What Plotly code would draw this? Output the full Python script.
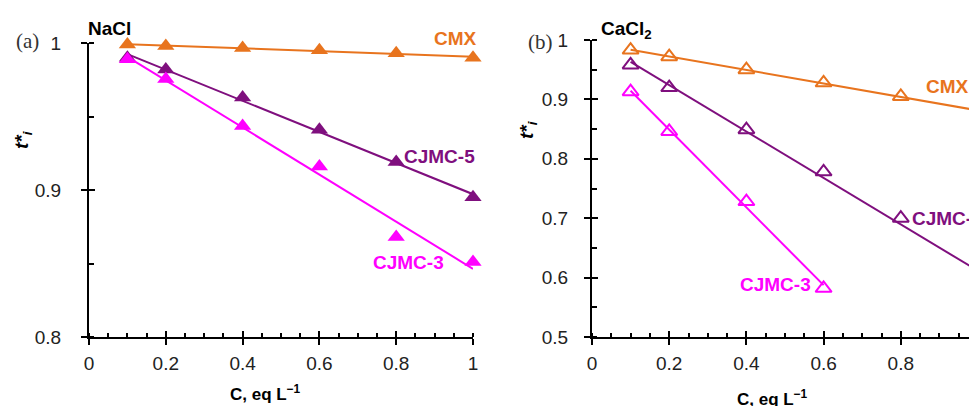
import numpy as np
import plotly.graph_objects as go

# ---------------- data ----------------
conc_a = [0.1, 0.2, 0.4, 0.6, 0.8, 1.0]
nacl_cmx = [0.999, 0.998, 0.9966, 0.995, 0.993, 0.990]
nacl_cjmc5 = [0.990, 0.982, 0.963, 0.941, 0.919, 0.895]
nacl_cjmc3 = [0.989, 0.9755, 0.9435, 0.916, 0.868, 0.851]

conc_b = [0.1, 0.2, 0.4, 0.6, 0.8, 1.0]
conc_b3 = [0.1, 0.2, 0.4, 0.6]
cacl_cmx = [0.983, 0.972, 0.950, 0.928, 0.905, 0.880]
cacl_cjmc5 = [0.958, 0.920, 0.849, 0.778, 0.700, 0.597]
cacl_cjmc3 = [0.913, 0.846, 0.728, 0.582]

x_ticks = [0, 0.2, 0.4, 0.6, 0.8, 1]
x_tick_text = ["0", "0.2", "0.4", "0.6", "0.8", "1"]
ya_ticks = [0.8, 0.9, 1.0]
ya_tick_text = ["0.8", "0.9", "1"]
yb_ticks = [0.5, 0.6, 0.7, 0.8, 0.9, 1.0]
yb_tick_text = ["0.5", "0.6", "0.7", "0.8", "0.9", "1"]

ORANGE = "#E8741E"
PURPLE = "#7F0F7E"
MAGENTA = "#FF00FF"

W, H = 977, 406
OFF = 8  # page body margin offset


def px(x):
    return (x - OFF) / W


def py(y):
    return 1 - (y - OFF) / H


fig = go.Figure()


def add_series(xs, ys, color, xa, ya, filled):
    xs = np.array(xs)
    ys = np.array(ys)
    k, b = np.polyfit(xs, ys, 1)
    xl = np.array([xs.min(), xs.max()])
    fig.add_trace(go.Scatter(x=xl, y=k * xl + b, mode="lines",
                             line=dict(color=color, width=2),
                             xaxis=xa, yaxis=ya, showlegend=False,
                             cliponaxis=False, hoverinfo="skip"))
    if filled:
        marker = dict(symbol="triangle-up", size=15, color=color,
                      line=dict(width=0))
    else:
        marker = dict(symbol="triangle-up-open", size=14, color=color,
                      line=dict(width=2, color=color))
    fig.add_trace(go.Scatter(x=xs, y=ys, mode="markers", marker=marker,
                             xaxis=xa, yaxis=ya, showlegend=False,
                             cliponaxis=False))


add_series(conc_a, nacl_cmx, ORANGE, "x", "y", True)
add_series(conc_a, nacl_cjmc5, PURPLE, "x", "y", True)
add_series(conc_a, nacl_cjmc3, MAGENTA, "x", "y", True)
add_series(conc_b, cacl_cmx, ORANGE, "x2", "y2", False)
add_series(conc_b, cacl_cjmc5, PURPLE, "x2", "y2", False)
add_series(conc_b3, cacl_cjmc3, MAGENTA, "x2", "y2", False)

# empty traces to activate overlay axes
fig.add_trace(go.Scatter(x=[], y=[], xaxis="x3", yaxis="y3", showlegend=False))
fig.add_trace(go.Scatter(x=[], y=[], xaxis="x4", yaxis="y4", showlegend=False))

tickfont = dict(family="Liberation Sans, Arial", size=19, color="#222")

dom_ax = [px(89), px(473)]
dom_ay = [py(337), py(43)]
dom_bx = [px(592), px(978)]
dom_by = [py(337), py(40)]

common_x = dict(range=[0, 1], showline=True, linecolor="black", linewidth=2,
                ticks="outside", ticklen=6, tickwidth=1.5, tickcolor="black",
                tickvals=x_ticks, ticktext=x_tick_text, tickfont=tickfont,
                showgrid=False, zeroline=False, automargin=False,
                ticklabelstandoff=2,
                minor=dict(dtick=0.05, tick0=0, ticks="inside", ticklen=4,
                           tickwidth=1.5, tickcolor="black", showgrid=False))
over_x = dict(range=[0, 1], showline=False, ticks="inside", ticklen=6,
              tickwidth=1.5, tickcolor="black", tickvals=x_ticks,
              showticklabels=False, showgrid=False, zeroline=False,
              automargin=False)

fig.update_layout(
    width=W, height=H, autosize=False,
    margin=dict(l=0, r=0, t=0, b=0, pad=0),
    paper_bgcolor="white", plot_bgcolor="white",
    font=dict(family="Liberation Sans, Arial", color="black"),
    xaxis=dict(domain=dom_ax, anchor="y", **common_x),
    yaxis=dict(domain=dom_ay, anchor="x", range=[0.8, 1.0], showline=True,
               linecolor="black", linewidth=2, ticks="outside", ticklen=6,
               tickwidth=1.5, tickcolor="black", tickvals=ya_ticks,
               ticktext=ya_tick_text, tickfont=tickfont, showgrid=False,
               zeroline=False, automargin=False, ticklabelstandoff=16,
               minor=dict(dtick=0.05, tick0=0.8, ticks="inside", ticklen=5,
                          tickwidth=1.5, tickcolor="black", showgrid=False)),
    xaxis2=dict(domain=dom_bx, anchor="y2", **common_x),
    yaxis2=dict(domain=dom_by, anchor="x2", range=[0.5, 1.0], showline=True,
                linecolor="black", linewidth=2, ticks="outside", ticklen=6,
                tickwidth=1.5, tickcolor="black", tickvals=yb_ticks,
                ticktext=yb_tick_text, tickfont=tickfont, showgrid=False,
                zeroline=False, automargin=False, ticklabelstandoff=12,
                minor=dict(dtick=0.05, tick0=0.5, ticks="inside", ticklen=5,
                           tickwidth=1.5, tickcolor="black", showgrid=False)),
    xaxis3=dict(overlaying="x", anchor="y", **over_x),
    yaxis3=dict(overlaying="y", anchor="x", range=[0.8, 1.0], showline=False,
                ticks="inside", ticklen=6, tickwidth=1.5, tickcolor="black",
                tickvals=ya_ticks, showticklabels=False, showgrid=False,
                zeroline=False, automargin=False),
    xaxis4=dict(overlaying="x2", anchor="y2", **over_x),
    yaxis4=dict(overlaying="y2", anchor="x2", range=[0.5, 1.0], showline=False,
                ticks="inside", ticklen=6, tickwidth=1.5, tickcolor="black",
                tickvals=yb_ticks, showticklabels=False, showgrid=False,
                zeroline=False, automargin=False),
)

ann = []


def add_text(text, x, y, size=16, color="black", bold=True, family="Liberation Sans, Arial",
             xanchor="center", angle=0):
    t = f"<b>{text}</b>" if bold else text
    ann.append(dict(text=t, x=px(x), y=py(y), xref="paper", yref="paper",
                    xanchor=xanchor, yanchor="middle", showarrow=False,
                    textangle=angle,
                    font=dict(family=family, size=size, color=color)))


SERIF = "Liberation Serif, Times New Roman"
add_text("(a)", 27, 41, size=21, bold=False, family=SERIF, color="#333")
add_text("(b)", 540, 42, size=21, bold=False, family=SERIF, color="#333")
add_text("NaCl", 109, 28, size=19)
add_text("CaCl<sub>2</sub>", 626, 30, size=19)
add_text("<i>t*</i><sub><i>i</i></sub>", 23, 140, size=19, angle=-90)
add_text("<i>t*</i><sub><i>i</i></sub>", 528, 130, size=19, angle=-90)
add_text("C, eq L<sup>−1</sup>", 265, 393, size=17)
add_text("C, eq L<sup>−1</sup>", 772, 398, size=17)

add_text("CMX", 455, 38, size=19, color=ORANGE)
add_text("CJMC-5", 439, 156, size=19, color=PURPLE)
add_text("CJMC-3", 408, 262, size=19, color=MAGENTA)
add_text("CMX", 947, 86, size=19, color=ORANGE)
add_text("CJMC-5", 910, 218, size=19, color=PURPLE, xanchor="left")
add_text("CJMC-3", 775, 284, size=19, color=MAGENTA)

fig.update_layout(annotations=ann)

fig.write_html("out.html")
